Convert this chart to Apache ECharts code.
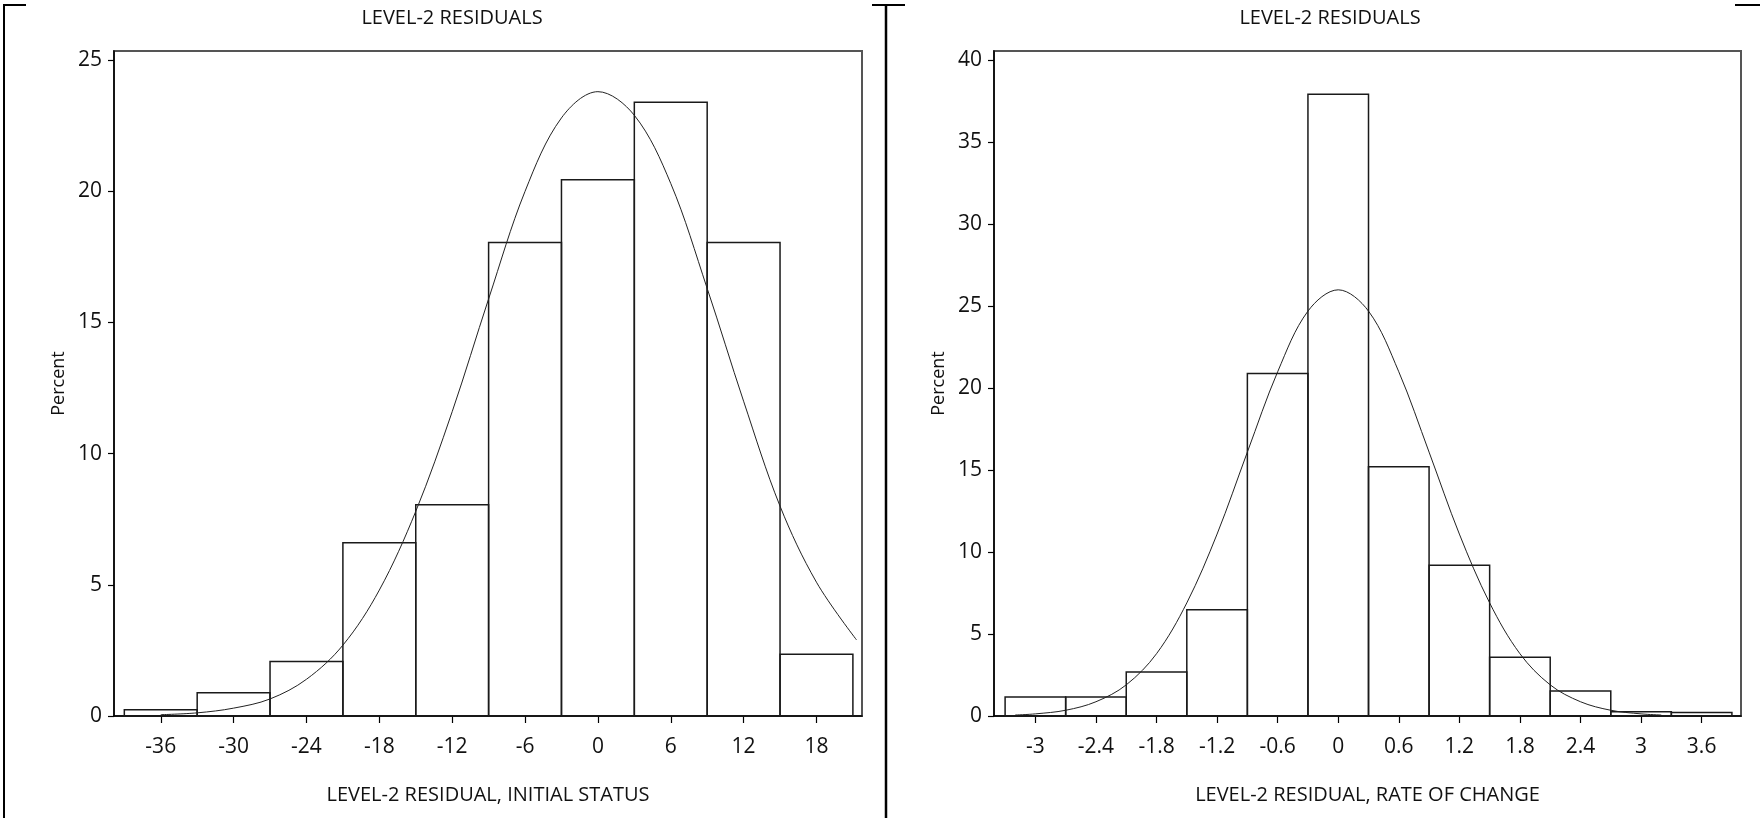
<!DOCTYPE html>
<html>
<head>
<meta charset="utf-8">
<title>Level-2 residuals</title>
<script src="https://cdn.jsdelivr.net/npm/echarts@6/dist/echarts.min.js"></script>
<style>
  html, body { margin: 0; padding: 0; background: #fff; }
  #chart { width: 1760px; height: 818px; }
</style>
</head>
<body>
<div id="chart"></div>
<script>
  // bins are 6 wide (initial status) and 0.6 wide (rate of change), keyed by midpoint
  const leftBinMids = [-36, -30, -24, -18, -12, -6, 0, 6, 12, 18];
  const leftPercents = [0.24, 0.89, 2.08, 6.6, 8.05, 18.05, 20.44, 23.4, 18.05, 2.35];
  const leftBinWidth = 6;
  const leftTicks = [-36, -30, -24, -18, -12, -6, 0, 6, 12, 18];
  const leftYTicks = [0, 5, 10, 15, 20, 25];

  // normal curve
  const leftCurveX = [-36, -33, -30, -27, -24, -21, -18, -15, -12, -9, -6, -3, 0, 3, 6, 9, 12, 15, 18, 21.3];
  const leftCurveY = [0.05, 0.12, 0.3, 0.65, 1.4, 2.7, 4.8, 7.8, 11.6, 15.9, 20.0, 22.8, 23.8, 22.9, 20.3, 16.3, 12.0, 8.0, 5.1, 2.9];

  const rightBinMids = [-3, -2.4, -1.8, -1.2, -0.6, 0, 0.6, 1.2, 1.8, 2.4, 3, 3.6];
  const rightPercents = [1.16, 1.16, 2.68, 6.48, 20.9, 37.93, 15.2, 9.2, 3.58, 1.52, 0.26, 0.22];
  const rightBinWidth = 0.6;
  const rightTicks = [-3, -2.4, -1.8, -1.2, -0.6, 0, 0.6, 1.2, 1.8, 2.4, 3, 3.6];
  const rightYTicks = [0, 5, 10, 15, 20, 25, 30, 35, 40];

  const rightCurveX = [-3.2, -3, -2.7, -2.4, -2.1, -1.8, -1.5, -1.2, -0.9, -0.6, -0.3, 0, 0.3, 0.6, 0.9, 1.2, 1.5, 1.8, 2.1, 2.4, 2.7, 3, 3.2];
  const rightCurveY = [0.06, 0.13, 0.35, 0.87, 1.9, 3.8, 6.9, 11.1, 16.1, 21.0, 24.7, 26.0, 24.7, 21.0, 16.1, 11.1, 6.9, 3.8, 1.9, 0.87, 0.35, 0.13, 0.06];

  const FONT = 'Open Sans';
  const TXT = '#111';

  let myChart = echarts.init(document.getElementById('chart'));

  function pairs(xs, ys) {
    return xs.map((x, i) => [x, ys[i]]);
  }

  function histSeries(idx, mids, pcts, width) {
    return {
      type: 'custom',
      xAxisIndex: idx,
      yAxisIndex: idx,
      z: 2,
      data: pairs(mids, pcts),
      renderItem(params, api) {
        let mid = api.value(0);
        let p0 = api.coord([mid - width / 2, 0]);
        let p1 = api.coord([mid + width / 2, api.value(1)]);
        return {
          type: 'rect',
          shape: { x: p0[0], y: p1[1], width: p1[0] - p0[0], height: p0[1] - p1[1] },
          style: { fill: 'rgba(255,255,255,0)', stroke: '#1a1a1a', lineWidth: 1.5 }
        };
      }
    };
  }

  function curveSeries(idx, xs, ys) {
    return {
      type: 'line',
      xAxisIndex: idx,
      yAxisIndex: idx,
      z: 3,
      smooth: 0.35,
      showSymbol: false,
      silent: true,
      data: pairs(xs, ys),
      lineStyle: { color: '#222', width: 1 }
    };
  }

  function xAxis(idx, min, max, ticks, name) {
    return {
      type: 'value',
      gridIndex: idx,
      min: min,
      max: max,
      name: name,
      nameLocation: 'middle',
      nameGap: 69,
      nameTextStyle: { fontFamily: FONT, fontSize: 20, color: TXT },
      axisLine: { onZero: false, lineStyle: { color: '#000', width: 1.5 } },
      axisTick: { show: true, length: 7, customValues: ticks, lineStyle: { color: '#000', width: 1.2 } },
      axisLabel: { customValues: ticks, margin: 21, fontFamily: FONT, fontSize: 21, color: TXT },
      splitLine: { show: false }
    };
  }

  function yAxis(idx, max, ticks) {
    return {
      type: 'value',
      gridIndex: idx,
      min: 0,
      max: max,
      name: 'Percent',
      nameLocation: 'middle',
      nameGap: 46,
      nameTextStyle: { fontFamily: FONT, fontSize: 18, color: TXT },
      axisLine: { show: true, onZero: false, lineStyle: { color: '#000', width: 1.5 } },
      axisTick: { show: true, length: 6, customValues: ticks, lineStyle: { color: '#000', width: 1.2 } },
      axisLabel: { customValues: ticks, margin: 12, fontFamily: FONT, fontSize: 21, color: TXT },
      splitLine: { show: false }
    };
  }

  function frameLine(x1, y1, x2, y2, w) {
    return {
      type: 'line',
      silent: true,
      shape: { x1: x1, y1: y1, x2: x2, y2: y2 },
      style: { stroke: '#000', lineWidth: w }
    };
  }

  let option = {
    backgroundColor: '#fff',
    animation: false,
    title: [
      { text: 'LEVEL-2 RESIDUALS', left: 452, top: 8, padding: 0, textAlign: 'center',
        textStyle: { fontFamily: FONT, fontSize: 20, fontWeight: 'normal', color: TXT } },
      { text: 'LEVEL-2 RESIDUALS', left: 1330, top: 8, padding: 0, textAlign: 'center',
        textStyle: { fontFamily: FONT, fontSize: 20, fontWeight: 'normal', color: TXT } }
    ],
    grid: [
      { left: 114, top: 51, width: 748, height: 665, show: true, borderColor: '#555', borderWidth: 2 },
      { left: 994, top: 51, width: 747, height: 665, show: true, borderColor: '#555', borderWidth: 2 }
    ],
    xAxis: [
      xAxis(0, -39.85, 21.75, leftTicks, 'LEVEL-2 RESIDUAL, INITIAL STATUS'),
      xAxis(1, -3.41, 3.99, rightTicks, 'LEVEL-2 RESIDUAL, RATE OF CHANGE')
    ],
    yAxis: [
      yAxis(0, 25.35, leftYTicks),
      yAxis(1, 40.57, rightYTicks)
    ],
    series: [
      histSeries(0, leftBinMids, leftPercents, leftBinWidth),
      curveSeries(0, leftCurveX, leftCurveY),
      histSeries(1, rightBinMids, rightPercents, rightBinWidth),
      curveSeries(1, rightCurveX, rightCurveY)
    ],
    graphic: [
      frameLine(4, 4, 4, 818, 2),
      frameLine(886, 4, 886, 818, 2.5),
      frameLine(4, 5, 26, 5, 2),
      frameLine(872, 5, 905, 5, 2),
      frameLine(1735, 5, 1760, 5, 2)
    ]
  };

  myChart.setOption(option);
</script>
</body>
</html>
